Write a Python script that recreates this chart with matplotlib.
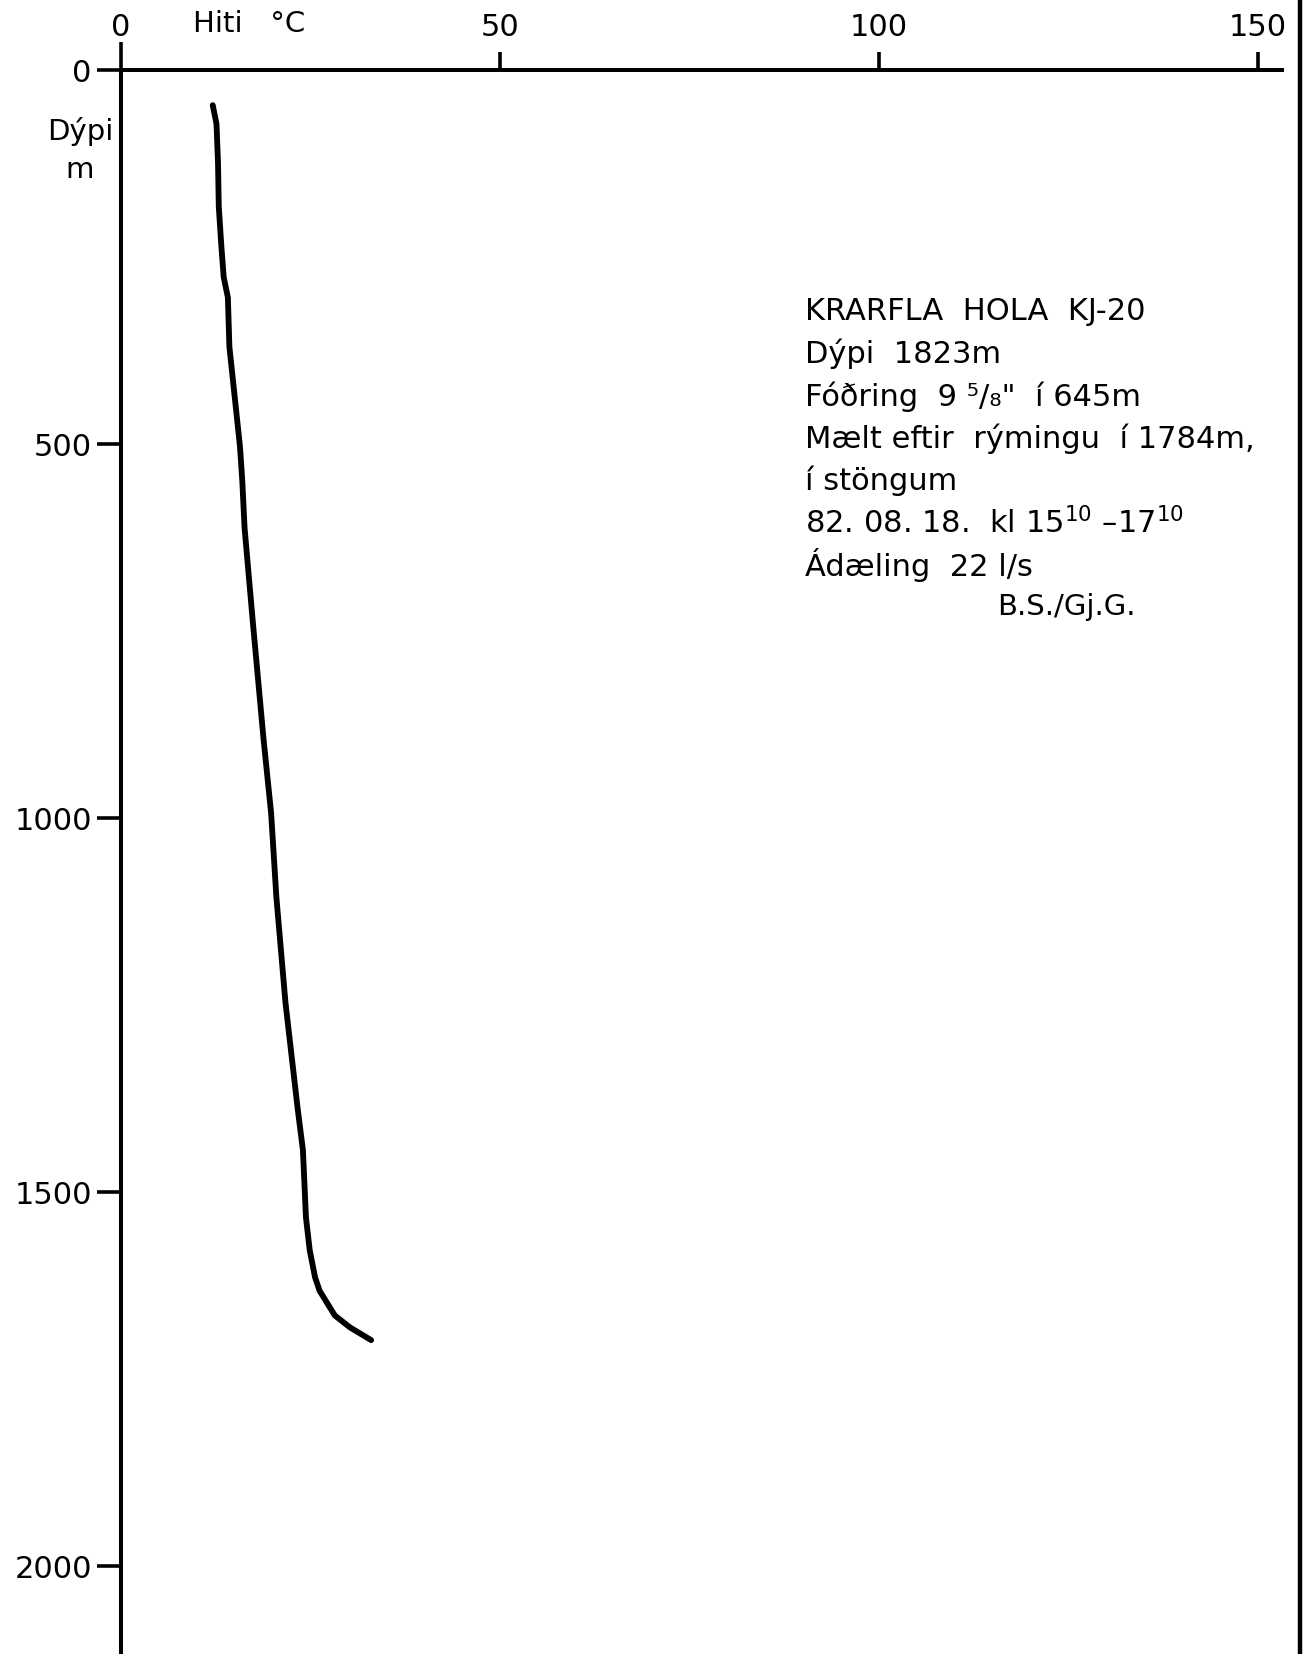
import matplotlib
matplotlib.use("Agg")
import matplotlib.pyplot as plt
from matplotlib.lines import Line2D

# temperature log, Krafla KJ-20
temp = [12.1, 12.6, 12.8, 12.9, 13.25, 13.55, 14.1, 14.3, 15.0, 15.7, 16.0, 16.3,
        17.4, 18.8, 19.8, 20.5, 21.7, 23.3, 24.0, 24.4, 24.9, 25.6, 26.2, 28.2, 30.2, 33.0]
depth = [47, 72, 125, 183, 237, 277, 304, 370, 437, 504, 549, 612,
         739, 894, 993, 1106, 1247, 1388, 1444, 1534, 1578, 1614, 1632, 1665, 1681, 1698]

xticks = [0, 50, 100, 150]
yticks = [0, 500, 1000, 1500, 2000]

info_lines = [
    "KRARFLA  HOLA  KJ-20",
    "Dýpi  1823m",
    "Fóðring  9 ⁵/₈\"  í 645m",
    "Mælt eftir  rýmingu  í 1784m,",
    "í stöngum",
    "82. 08. 18.  kl 15$^{10}$ –17$^{10}$",
    "Ádæling  22 l/s",
]
sign = "B.S./Gj.G."

W, H = 1306, 1654
fig = plt.figure(figsize=(W / 100, H / 100), dpi=100)
ax = fig.add_axes([121 / W, 0, (1282 - 121) / W, 1 - 70 / H])

ax.plot(temp, depth, color="black", lw=4.2, solid_capstyle="round", solid_joinstyle="round")

ax.set_xlim(0, 150 * (1282 - 121) / (1258 - 121))
ax.set_ylim((H - 70) / 0.748, 0)

for s in ["right", "bottom"]:
    ax.spines[s].set_visible(False)
for s in ["left", "top"]:
    ax.spines[s].set_linewidth(2.9)

ax.xaxis.tick_top()
ax.set_xticks(xticks)
ax.set_yticks(yticks)
ax.tick_params(axis="x", direction="out", length=13, width=2.6, pad=7, labelsize=22)
ax.tick_params(axis="y", direction="out", length=17, width=2.6, pad=4, labelsize=22)
ax.xaxis.get_major_ticks()[0].tick2line.set_markersize(20)

fig.text(193 / W, 1 - 24 / H, "Hiti   °C", fontsize=21, va="center", ha="left")
fig.text(80 / W, 1 - 132 / H, "Dýpi", fontsize=21, va="center", ha="center")
fig.text(80 / W, 1 - 170 / H, "m", fontsize=21, va="center", ha="center")

for i, line in enumerate(info_lines):
    fig.text(805 / W, 1 - (312 + i * 42.2) / H, line, fontsize=22, va="center", ha="left")
fig.text(997 / W, 1 - 607 / H, sign, fontsize=21, va="center", ha="left")

# frame line on the right edge
fig.add_artist(Line2D([1300 / W, 1300 / W], [0, 1], lw=3.2, color="black"))

fig.savefig("out.png", dpi=100)
